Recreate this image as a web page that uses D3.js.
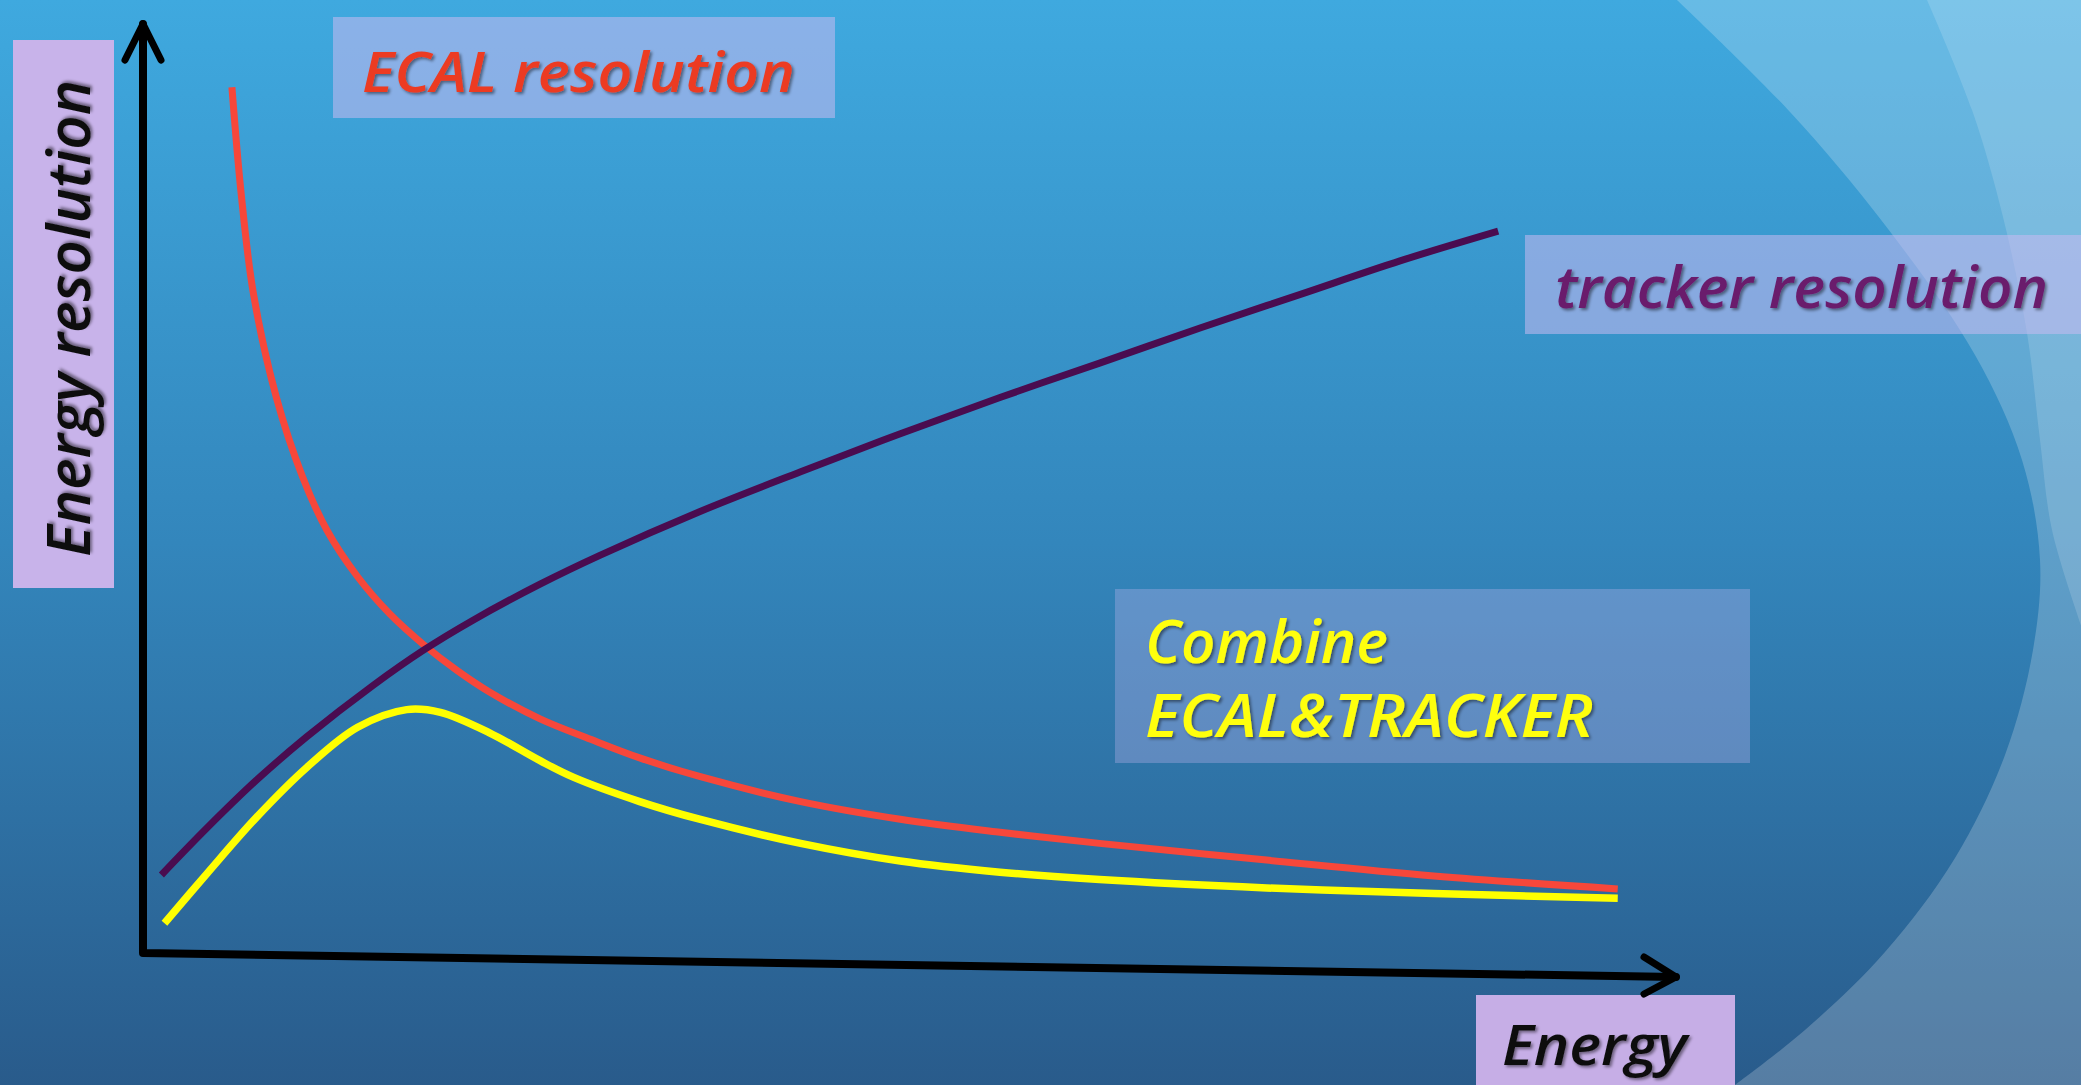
<!DOCTYPE html>
<html>
<head>
<meta charset="utf-8">
<script src="https://cdn.jsdelivr.net/npm/d3@7"></script>
<style>
  html, body { margin: 0; padding: 0; overflow: hidden; background: #2f7fb4; }
  svg { display: block; }
  text { font-family: "Open Sans", "DejaVu Sans", sans-serif; font-style: italic; font-weight: 600; }
</style>
</head>
<body>
<script>
// ---------------- data (arbitrary units 0..100) ----------------
const ecalEnergy = [5.8, 6.4, 7.2, 8.7, 10.4, 12.0, 14.0, 16.1, 18.3, 20.5, 22.6, 25.9, 29.2, 32.4, 36.3, 42.9, 49.4, 55.9, 62.4, 73.3, 84.2, 96.2];
const ecalRes    = [93.2, 81.8, 71.0, 59.8, 51.3, 45.5, 40.5, 36.5, 33.2, 30.4, 28.1, 25.2, 23.0, 21.0, 19.0, 16.3, 14.4, 13.0, 11.8, 10.0, 8.3, 6.9];

const trackerEnergy = [1.2, 4.2, 7.4, 10.7, 15.0, 18.3, 21.5, 25.9, 29.8, 36.3, 42.9, 49.4, 55.9, 62.4, 69.0, 75.5, 82.0, 88.4];
const trackerRes    = [8.4, 13.5, 18.6, 23.3, 28.8, 32.6, 35.8, 39.7, 42.8, 47.5, 51.8, 55.9, 59.8, 63.5, 67.3, 70.9, 74.5, 77.7];

const combinedEnergy = [1.4, 4.2, 7.4, 10.7, 14.0, 17.2, 19.4, 22.6, 25.9, 28.1, 32.4, 36.3, 42.9, 49.4, 55.9, 62.4, 73.3, 84.2, 96.2];
const combinedRes    = [3.2, 8.6, 14.6, 20.0, 24.3, 26.2, 25.9, 23.7, 20.7, 18.9, 16.3, 14.4, 11.8, 9.9, 8.7, 7.9, 7.0, 6.4, 5.9];

const seriesNames = ["ECAL resolution", "tracker resolution"];
const combinedLabel = ["Combine", "ECAL&TRACKER"];
const xTitle = "Energy";
const yTitle = "Energy resolution";

// ---------------- setup ----------------
const W = 2081, H = 1085;
const svg = d3.select("body").append("svg").attr("width", W).attr("height", H);
const defs = svg.append("defs");

const grad = defs.append("linearGradient").attr("id", "bg").attr("x1", 0).attr("y1", 0).attr("x2", 0).attr("y2", 1);
grad.append("stop").attr("offset", "0%").attr("stop-color", "#3fa9df");
grad.append("stop").attr("offset", "50%").attr("stop-color", "#3386bc");
grad.append("stop").attr("offset", "100%").attr("stop-color", "#295b8b");

const sh = defs.append("filter").attr("id", "shadow").attr("x", "-10%").attr("y", "-30%").attr("width", "130%").attr("height", "160%");
sh.append("feDropShadow").attr("dx", 2).attr("dy", 2).attr("stdDeviation", 1.6)
  .attr("flood-color", "#000").attr("flood-opacity", 0.45);

svg.append("rect").attr("width", W).attr("height", H).attr("fill", "url(#bg)");

// decorative light swooshes on the right
const swoosh = d3.line().curve(d3.curveCatmullRom.alpha(0.5));
const arc1 = [[1677,0],[1790,112],[1885,225],[1975,355],[2022,460],[2040,560],[2033,650],[2005,755],[1955,858],[1885,952],[1805,1030],[1735,1085]];
const arc2 = [[1927,0],[1972,110],[2003,217],[2027,333],[2040,440],[2052,530],[2081,625]];
svg.append("path").attr("d", swoosh(arc1) + "L2081,1085L2081,0Z").attr("fill", "#fff").attr("opacity", 0.21);
svg.append("path").attr("d", swoosh(arc2) + "L2081,0Z").attr("fill", "#fff").attr("opacity", 0.15);

// ---------------- scales ----------------
const x = d3.scaleLinear().domain([0, 100]).range([143, 1676]);
const y = d3.scaleLinear().domain([0, 100]).range([953, 24]);

// ---------------- label boxes ----------------
svg.append("rect").attr("x", 13).attr("y", 40).attr("width", 101).attr("height", 548).attr("fill", "#c8b3ea");
svg.append("rect").attr("x", 1476).attr("y", 995).attr("width", 259).attr("height", 95).attr("fill", "#c6aee6");
svg.append("rect").attr("x", 333).attr("y", 17).attr("width", 502).attr("height", 101).attr("fill", "rgb(200,185,240)").attr("opacity", 0.55);
svg.append("rect").attr("x", 1525).attr("y", 235).attr("width", 560).attr("height", 99).attr("fill", "rgb(200,185,240)").attr("opacity", 0.55);
svg.append("rect").attr("x", 1115).attr("y", 589).attr("width", 635).attr("height", 174).attr("fill", "rgb(200,185,240)").attr("opacity", 0.32);

// texts
svg.append("text").text(seriesNames[0]).attr("x", 362).attr("y", 92)
  .attr("font-size", 56).attr("fill", "#ec3a22").attr("textLength", 433).attr("lengthAdjust", "spacingAndGlyphs")
  .attr("filter", "url(#shadow)");
svg.append("text").text(seriesNames[1]).attr("x", 1555).attr("y", 308)
  .attr("font-size", 58).attr("fill", "#6a1b6c").attr("textLength", 493).attr("lengthAdjust", "spacingAndGlyphs")
  .attr("filter", "url(#shadow)");
svg.append("text").text(combinedLabel[0]).attr("x", 1145).attr("y", 663)
  .attr("font-size", 60).attr("fill", "#ffff10").attr("textLength", 243).attr("lengthAdjust", "spacingAndGlyphs")
  .attr("filter", "url(#shadow)");
svg.append("text").text(combinedLabel[1]).attr("x", 1145).attr("y", 737)
  .attr("font-size", 60).attr("fill", "#ffff10").attr("textLength", 448).attr("lengthAdjust", "spacingAndGlyphs")
  .attr("filter", "url(#shadow)");
svg.append("text").text(yTitle).attr("transform", "translate(90,557) rotate(-90)")
  .attr("font-size", 60).attr("fill", "#111").attr("textLength", 477).attr("lengthAdjust", "spacingAndGlyphs")
  .attr("filter", "url(#shadow)");
svg.append("text").text(xTitle).attr("x", 1502).attr("y", 1065)
  .attr("font-size", 56).attr("fill", "#111").attr("textLength", 185).attr("lengthAdjust", "spacingAndGlyphs")
  .attr("filter", "url(#shadow)");

// ---------------- axes (hand-drawn arrows) ----------------
const axisG = svg.append("g").attr("stroke", "#000").attr("fill", "none").attr("stroke-width", 8)
  .attr("stroke-linecap", "round").attr("stroke-linejoin", "round");
const xDrop = 24; // the original's x axis droops slightly
const yTop = y(100);
axisG.append("path").attr("d", `M${x(0)},${yTop}L${x(0)},${y(0)}L${x(100)},${y(0) + xDrop}`);
axisG.append("path").attr("d", `M${x(0) - 18},${yTop + 36}L${x(0)},${yTop}L${x(0) + 18},${yTop + 36}`).attr("stroke-width", 7);
axisG.append("path").attr("d", `M${x(100) - 32},${y(0) + xDrop - 20}L${x(100)},${y(0) + xDrop}L${x(100) - 32},${y(0) + xDrop + 17}`).attr("stroke-width", 7);

// ---------------- curves ----------------
const line = d3.line().x(d => x(d[0])).y(d => y(d[1])).curve(d3.curveCatmullRom.alpha(0.5));
const zip = (a, b) => a.map((v, i) => [v, b[i]]);

svg.append("path").attr("d", line(zip(ecalEnergy, ecalRes)))
  .attr("fill", "none").attr("stroke", "#f7473a").attr("stroke-width", 7);
svg.append("path").attr("d", line(zip(combinedEnergy, combinedRes)))
  .attr("fill", "none").attr("stroke", "#ffff00").attr("stroke-width", 7.5);
svg.append("path").attr("d", line(zip(trackerEnergy, trackerRes)))
  .attr("fill", "none").attr("stroke", "#4a0c50").attr("stroke-width", 7);
</script>
</body>
</html>
